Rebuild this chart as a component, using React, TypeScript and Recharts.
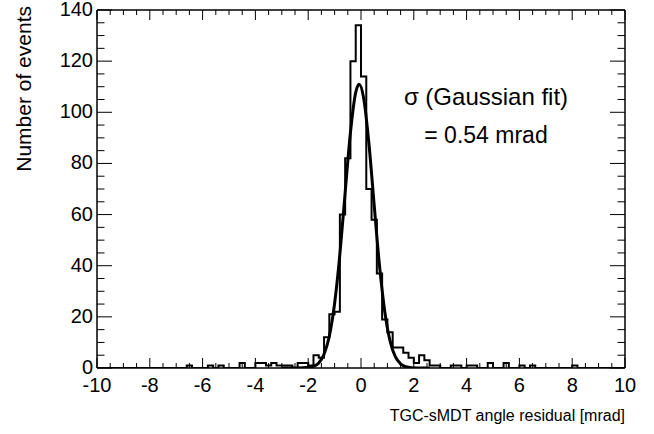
import React from 'react';
import { ComposedChart, Line, XAxis, YAxis } from 'recharts';

// histogram: 100 bins of 0.2 mrad from -10 to 10
const binStart = -10;
const binWidth = 0.2;
const counts = [
  0, 0, 0, 0, 0, 0, 0, 0, 0, 0,
  0, 0, 0, 0, 0, 0, 0, 1, 0, 0,
  0, 1, 0, 1, 0, 0, 0, 2, 0, 0,
  2, 2, 1, 2, 1, 1, 1, 0, 2, 2,
  1, 5, 4, 12, 21, 22, 60, 82, 120, 134,
  114, 70, 58, 37, 19, 14, 8, 8, 6, 4,
  2, 5, 3, 1, 1, 0, 0, 1, 1, 0,
  1, 1, 0, 0, 2, 0, 0, 2, 0, 0,
  1, 0, 1, 0, 0, 0, 0, 0, 0, 0,
  1, 0, 0, 0, 0, 0, 0, 0, 0, 0,
];

// gaussian fit curve
const fitX = [-3.0, -2.6, -2.2, -1.8, -1.6, -1.4, -1.2, -1.0, -0.8, -0.6, -0.4, -0.2, -0.07, 0.1, 0.3, 0.5, 0.7, 0.9, 1.1, 1.3, 1.5, 1.7, 2.1, 2.6];
const fitY = [0, 0, 0.1, 0.7, 2, 5.4, 12.4, 25.2, 44.5, 68.6, 92.1, 107.8, 111, 105.6, 87.8, 63.6, 40.1, 22.1, 10.6, 4.4, 1.6, 0.5, 0, 0];

const xTicks = [
  -10, -9.5, -9, -8.5, -8, -7.5, -7, -6.5, -6, -5.5, -5, -4.5, -4, -3.5, -3, -2.5, -2, -1.5, -1, -0.5,
  0, 0.5, 1, 1.5, 2, 2.5, 3, 3.5, 4, 4.5, 5, 5.5, 6, 6.5, 7, 7.5, 8, 8.5, 9, 9.5, 10,
];
const xLabels = [-10, -8, -6, -4, -2, 0, 2, 4, 6, 8, 10];
const yTicks = [0, 5, 10, 15, 20, 25, 30, 35, 40, 45, 50, 55, 60, 65, 70, 75, 80, 85, 90, 95, 100, 105, 110, 115, 120, 125, 130, 135, 140];
const yLabels = [0, 20, 40, 60, 80, 100, 120, 140];

const histData = counts
  .map((c, i) => ({ x: +(binStart + i * binWidth).toFixed(1), y: c }))
  .concat([{ x: 10, y: 0 }]);
const fitData = fitX.map((x, i) => ({ x, y: fitY[i] }));

const FONT = '"Liberation Sans", Arial, Helvetica, sans-serif';
const W = 654;
const H = 434;

const BottomTick = ({ x, y, payload }: any) => {
  const major = xLabels.includes(payload.value);
  return (
    <g>
      <line x1={x} y1={y} x2={x} y2={y - (major ? 10 : 5)} stroke="#000" strokeWidth={1} />
      {major && (
        <text x={x} y={y + 24} textAnchor="middle" fontSize={20} fontFamily={FONT} fill="#000">
          {payload.value}
        </text>
      )}
    </g>
  );
};

const TopTick = ({ x, y, payload }: any) => {
  const major = xLabels.includes(payload.value);
  return <line x1={x} y1={y} x2={x} y2={y + (major ? 10 : 5)} stroke="#000" strokeWidth={1} />;
};

const LeftTick = ({ x, y, payload }: any) => {
  const major = yLabels.includes(payload.value);
  return (
    <g>
      <line x1={x} y1={y} x2={x + (major ? 15 : 7.5)} y2={y} stroke="#000" strokeWidth={1} />
      {major && (
        <text x={x - 4} y={y + 6} textAnchor="end" fontSize={20} fontFamily={FONT} fill="#000">
          {payload.value}
        </text>
      )}
    </g>
  );
};

const RightTick = ({ x, y, payload }: any) => {
  const major = yLabels.includes(payload.value);
  return <line x1={x} y1={y} x2={x - (major ? 15 : 7.5)} y2={y} stroke="#000" strokeWidth={1} />;
};

export default function App() {
  return (
    <div style={{ position: 'fixed', left: 0, top: 0, width: W, height: H, background: '#fff' }}>
      <ComposedChart width={W} height={H} margin={{ top: 9, right: 28, bottom: 0, left: 0 }}>
        <XAxis
          dataKey="x"
          type="number"
          domain={[-10, 10]}
          ticks={xTicks}
          interval={0}
          allowDataOverflow
          height={66}
          tickSize={0}
          tickMargin={0}
          tick={<BottomTick />}
          axisLine={{ stroke: '#000', strokeWidth: 1.5 }}
        />
        <XAxis
          xAxisId="top"
          orientation="top"
          dataKey="x"
          type="number"
          domain={[-10, 10]}
          ticks={xTicks}
          interval={0}
          allowDataOverflow
          height={1}
          tickSize={0}
          tickMargin={0}
          tick={<TopTick />}
          axisLine={{ stroke: '#000', strokeWidth: 1.5 }}
        />
        <YAxis
          type="number"
          domain={[0, 140]}
          ticks={yTicks}
          interval={0}
          allowDataOverflow
          width={97}
          tickSize={0}
          tickMargin={0}
          tick={<LeftTick />}
          axisLine={{ stroke: '#000', strokeWidth: 1.5 }}
        />
        <YAxis
          yAxisId="right"
          orientation="right"
          type="number"
          domain={[0, 140]}
          ticks={yTicks}
          interval={0}
          allowDataOverflow
          width={1}
          tickSize={0}
          tickMargin={0}
          tick={<RightTick />}
          axisLine={{ stroke: '#000', strokeWidth: 1.5 }}
        />
        {/* invisible series so the mirrored frame axes get drawn */}
        <Line
          xAxisId="top"
          yAxisId="right"
          data={histData}
          dataKey="y"
          stroke="none"
          dot={false}
          activeDot={false}
          legendType="none"
          isAnimationActive={false}
        />
        <Line
          data={histData}
          dataKey="y"
          type="stepAfter"
          stroke="#000"
          strokeWidth={2}
          dot={false}
          isAnimationActive={false}
        />
        <Line
          data={fitData}
          dataKey="y"
          type="monotone"
          stroke="#000"
          strokeWidth={3}
          dot={false}
          isAnimationActive={false}
        />
      </ComposedChart>
      <svg
        width={W}
        height={H}
        style={{ position: 'absolute', left: 0, top: 0, pointerEvents: 'none' }}
        fontFamily={FONT}
      >
        <text transform="translate(31, 6) rotate(-90)" textAnchor="end" fontSize={21} fill="#000">
          Number of events
        </text>
        <text x={625} y={421} textAnchor="end" fontSize={16} fill="#000">
          TGC-sMDT angle residual [mrad]
        </text>
        <text x={486} y={105} textAnchor="middle" fontSize={24} fill="#000">
          σ (Gaussian fit)
        </text>
        <text x={486} y={143} textAnchor="middle" fontSize={23} fill="#000">
          = 0.54 mrad
        </text>
      </svg>
    </div>
  );
}
